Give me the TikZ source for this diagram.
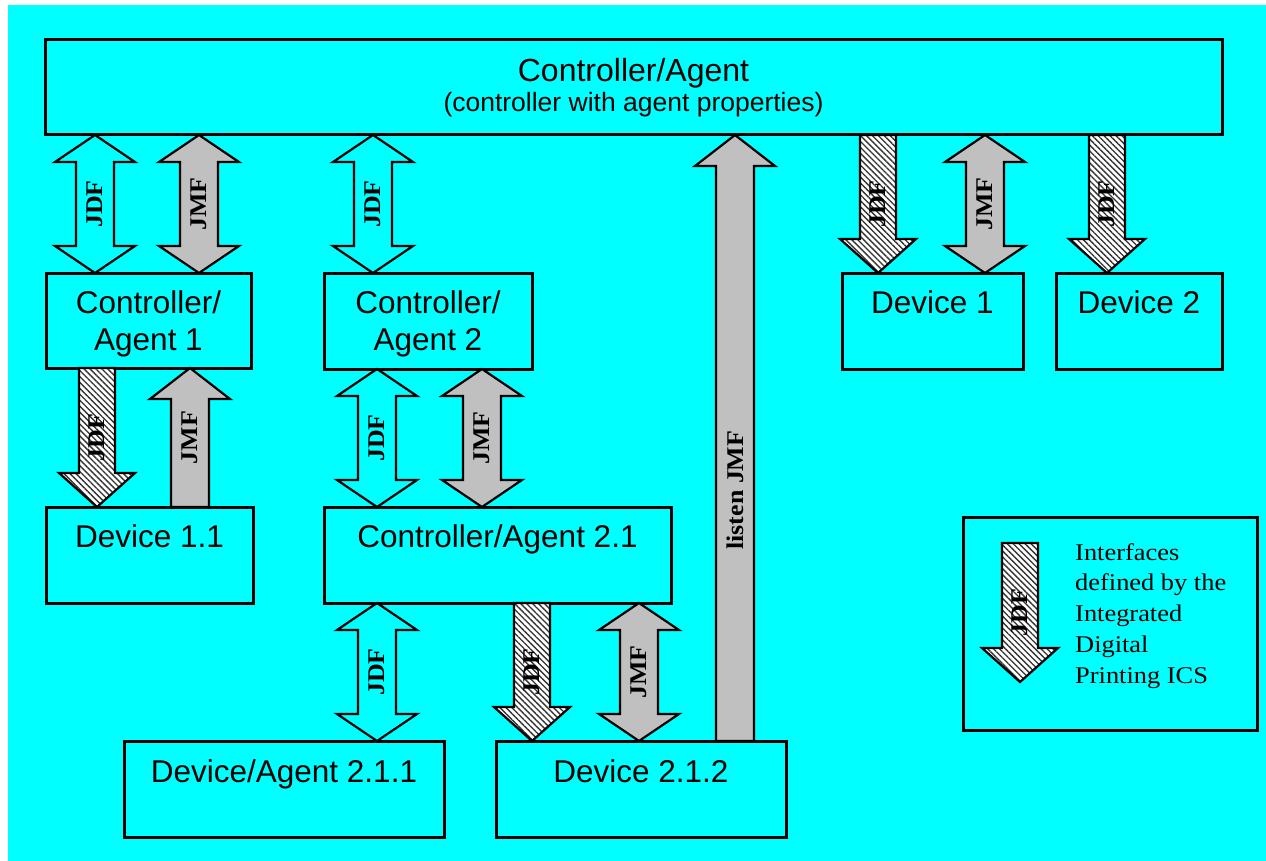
\documentclass[tikz,border=0pt]{standalone}
\usepackage{fontspec}
\setmainfont{Liberation Serif}
\newfontfamily\arialfont{Liberation Sans}
\usetikzlibrary{calc,patterns.meta}
\definecolor{bgcyan}{HTML}{00FFFF}
\definecolor{arrgray}{HTML}{C0C0C0}
\tikzset{
  unitbox/.style={draw=black, line width=3pt, inner sep=0pt, outer sep=0pt, anchor=north west},
  boxtxt/.style={font=\arialfont\fontsize{31.5}{37}\selectfont, align=center, anchor=base, inner sep=0pt},
  arrline/.style={draw=black, line width=2.2pt, line join=miter},
  openarr/.style={arrline},
  grayarr/.style={arrline, fill=arrgray},
  hatcharr/.style={arrline, preaction={fill=white}, pattern={Lines[angle=-45,distance=4.2pt,line width=1.35pt]}, pattern color=black!80},
  arrlbl/.style={rotate=90, font=\bfseries\fontsize{24}{26}\selectfont, inner sep=0pt},
}
% double block arrow: x, upper point, lower point, style, label, label name
\newcommand\DblArr[6]{%
  \path[#4] let \p1=(#1,0 |- #2), \p2=(#1,0 |- #3) in
    (\x1,\y1) -- (\x1+40pt,\y1-27pt) -- (\x1+19pt,\y1-27pt) -- (\x1+19pt,\y2+27pt)
    -- (\x1+40pt,\y2+27pt) -- (\x1,\y2) -- (\x1-40pt,\y2+27pt) -- (\x1-19pt,\y2+27pt)
    -- (\x1-19pt,\y1-27pt) -- (\x1-40pt,\y1-27pt) -- cycle;
  \path let \p1=(#1,0 |- #2), \p2=(#1,0 |- #3) in
    ($(\p1)!0.5!(\p2)$) node[arrlbl] (#6) {\scalebox{1.08}[1]{#5}};}
% single downward block arrow
\newcommand\DnArr[6]{%
  \path[#4] let \p1=(#1,0 |- #2), \p2=(#1,0 |- #3) in
    (\x1-18pt,\y1) -- (\x1+18pt,\y1) -- (\x1+18pt,\y2+34pt) -- (\x1+38pt,\y2+34pt)
    -- (\x1,\y2) -- (\x1-38pt,\y2+34pt) -- (\x1-18pt,\y2+34pt) -- cycle;
  \path let \p1=(#1,0 |- #2), \p2=(#1,0 |- #3) in
    ($(\p1)!0.5!(\p2)$) node[arrlbl] (#6) {\scalebox{1.08}[1]{#5}};}
% single upward block arrow: x, lower point, upper point, style, label, name, label fraction
\newcommand\UpArr[7]{%
  \path[#4] let \p1=(#1,0 |- #2), \p2=(#1,0 |- #3) in
    (\x1-19pt,\y1) -- (\x1-19pt,\y2-31pt) -- (\x1-40pt,\y2-31pt) -- (\x1,\y2)
    -- (\x1+40pt,\y2-31pt) -- (\x1+19pt,\y2-31pt) -- (\x1+19pt,\y1) -- cycle;
  \path let \p1=(#1,0 |- #2), \p2=(#1,0 |- #3) in
    ($(\p1)!#7!(\p2)$) node[arrlbl] (#6) {\scalebox{1.08}[1]{#5}};}
\begin{document}
\begin{tikzpicture}[x=1pt,y=1pt]
\useasboundingbox (0,0) rectangle (1266,-861);
\fill[bgcyan] (8,-5) rectangle (1266,-861);

% boxes
\node[unitbox, minimum width=1177pt, minimum height=95pt] (top) at (45,-40) {};
\node[font=\arialfont\fontsize{32}{37}\selectfont, anchor=base, inner sep=0pt] (toptitle) at (633.5,-82) {Controller/Agent};
\node[font=\arialfont\fontsize{26.5}{30}\selectfont, anchor=base, inner sep=0pt] (topsub) at (633.5,-112) {(controller with agent properties)};

\node[unitbox, minimum width=205pt, minimum height=95pt] (ca1) at (46,-273) {};
\node[boxtxt] (ca1t) at (148.5,-350) {Controller/\\Agent 1};
\node[unitbox, minimum width=208pt, minimum height=96pt] (ca2) at (324,-273) {};
\node[boxtxt] (ca2t) at (428,-350) {Controller/\\Agent 2};
\node[unitbox, minimum width=181pt, minimum height=96pt] (dev1) at (842,-273) {};
\node[boxtxt] (dev1t) at (932.5,-313) {Device 1};
\node[unitbox, minimum width=166pt, minimum height=96pt] (dev2) at (1056,-273) {};
\node[boxtxt] (dev2t) at (1139,-313) {Device 2};

\node[unitbox, minimum width=207pt, minimum height=96pt] (dev11) at (46,-507) {};
\node[boxtxt] (dev11t) at (149.5,-547) {Device 1.1};
\node[unitbox, minimum width=347pt, minimum height=96pt] (ca21) at (324,-507) {};
\node[boxtxt] (ca21t) at (497.5,-547) {Controller/Agent 2.1};

\node[unitbox, minimum width=320pt, minimum height=96pt] (da211) at (124,-741) {};
\node[boxtxt] (da211t) at (284,-782) {Device/Agent 2.1.1};
\node[unitbox, minimum width=290pt, minimum height=96pt] (dev212) at (496,-741) {};
\node[boxtxt] (dev212t) at (641,-782) {Device 2.1.2};

\node[unitbox, minimum width=294pt, minimum height=213pt] (legend) at (963,-517) {};
\node[anchor=base west, inner sep=0pt, font=\fontsize{24}{30.75}\selectfont] (legtxt) at (1075,-560)
  {\scalebox{1.1}[1]{\begin{tabular}[t]{@{}l@{}}Interfaces\\defined by the\\Integrated\\Digital\\Printing ICS\end{tabular}}};

% arrows, first level
\DblArr{95}{top.south}{ca1.north}{openarr}{JDF}{a1}
\DblArr{199}{top.south}{ca1.north}{grayarr}{JMF}{a2}
\DblArr{373}{top.south}{ca2.north}{openarr}{JDF}{a3}
\UpArr{735}{dev212.north}{top.south}{grayarr}{listen JMF}{a4}{0.414}
\DnArr{878}{top.south}{dev1.north}{hatcharr}{JDF}{a5}
\DblArr{985}{top.south}{dev1.north}{grayarr}{JMF}{a6}
\DnArr{1107}{top.south}{dev2.north}{hatcharr}{JDF}{a7}

% second level
\DnArr{97}{ca1.south}{dev11.north}{hatcharr}{JDF}{b1}
\UpArr{190}{dev11.north}{ca1.south}{grayarr}{JMF}{b2}{0.5}
\DblArr{377}{ca2.south}{ca21.north}{openarr}{JDF}{b3}
\DblArr{482}{ca2.south}{ca21.north}{grayarr}{JMF}{b4}

% third level
\DblArr{377}{ca21.south}{da211.north}{openarr}{JDF}{c1}
\DnArr{532}{ca21.south}{dev212.north}{hatcharr}{JDF}{c2}
\DblArr{639}{ca21.south}{dev212.north}{grayarr}{JMF}{c3}

% legend symbol
\coordinate (legA) at (1020,-543);
\coordinate (legB) at (1020,-682);
\DnArr{1020}{legA}{legB}{hatcharr}{JDF}{leglbl}
\end{tikzpicture}
\end{document}
